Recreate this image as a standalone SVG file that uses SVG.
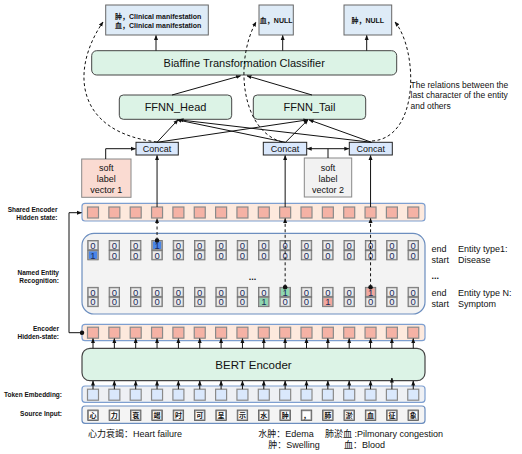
<svg xmlns="http://www.w3.org/2000/svg" xmlns:xlink="http://www.w3.org/1999/xlink" width="522" height="454" viewBox="0 0 522 454">
<style>
.t{font-family:"Liberation Sans","Noto Sans CJK SC",Arial,sans-serif;fill:#111}
.b{font-weight:bold}
.lbl{font-family:"Liberation Sans",Arial,sans-serif;font-weight:bold;font-size:6.5px;text-anchor:end;fill:#111}
.pk{fill:#f5b2a5;stroke:#8a8a8a;stroke-width:1.2}
.bl{fill:#dae8fc;stroke:#8a8a8a;stroke-width:1.2}
.ln{stroke:#111;stroke-width:1;fill:none}
.dl{stroke:#111;stroke-width:1;fill:none;stroke-dasharray:3 2.5}
.dg{font-family:"Liberation Sans",Arial,sans-serif;font-size:9.5px;fill:#1a2b5c;text-anchor:middle}
</style>
<defs>
<marker id="ah" viewBox="0 0 10 10" refX="9" refY="5" markerWidth="5" markerHeight="5" orient="auto"><path d="M0,1 L10,5 L0,9 z" fill="#111"/></marker>
<marker id="dot" viewBox="0 0 10 10" refX="5" refY="5" markerWidth="5" markerHeight="5"><circle cx="5" cy="5" r="4.5" fill="#111"/></marker>
<rect id="pkb" class="pk" x="-5.5" y="0" width="11" height="11"/>
<rect id="blb" class="bl" x="-5.5" y="0" width="11" height="11"/>
<g id="c"><rect x="-5.25" y="0" width="10.5" height="9.6" fill="#a6a6a6" stroke="#6d6d6d" stroke-width=".8"/><rect x="-4.1" y="1.1" width="8.2" height="7.4" fill="#ececec"/></g>
<g id="cB"><rect x="-5.25" y="0" width="10.5" height="9.6" fill="#a6a6a6" stroke="#6d6d6d" stroke-width=".8"/><rect x="-4.1" y="1.1" width="8.2" height="7.4" fill="#4a86e8"/></g>
<g id="cG"><rect x="-5.25" y="0" width="10.5" height="9.6" fill="#a6a6a6" stroke="#6d6d6d" stroke-width=".8"/><rect x="-4.1" y="1.1" width="8.2" height="7.4" fill="#8fd8b0"/></g>
<g id="cP"><rect x="-5.25" y="0" width="10.5" height="9.6" fill="#a6a6a6" stroke="#6d6d6d" stroke-width=".8"/><rect x="-4.1" y="1.1" width="8.2" height="7.4" fill="#f4a79d"/></g>
<g id="ch"><rect x="-5.25" y="0" width="10.5" height="10.5" fill="#9a9a9a" stroke="#555" stroke-width=".8"/><rect x="-4" y="1.25" width="8" height="8" fill="#fff"/></g>
</defs>
<rect width="522" height="454" fill="#fff"/>

<!-- top output boxes -->
<g id="out1"><rect x="105.7" y="5" width="102.6" height="30" fill="#deebf7" stroke="#666"/>
<text class="t b" x="115" y="18.5" font-size="7">肿，Clinical manifestation</text>
<text class="t b" x="115" y="27.5" font-size="7">血，Clinical manifestation</text></g>
<g id="out2"><rect x="259" y="5" width="34.3" height="30" fill="#deebf7" stroke="#666"/>
<text class="t b" x="276.2" y="22.5" font-size="7" text-anchor="middle">血，NULL</text></g>
<g id="out3"><rect x="344" y="5" width="47.7" height="30" fill="#deebf7" stroke="#666"/>
<text class="t b" x="367.8" y="22.5" font-size="7" text-anchor="middle">肿，NULL</text></g>

<g id="biaffine"><rect x="91.7" y="50.7" width="305" height="24.3" rx="5" fill="#dcf3e6" stroke="#444"/>
<text class="t" x="244.2" y="66.8" font-size="11" text-anchor="middle">Biaffine Transformation Classifier</text></g>

<g id="ffnn_head"><rect x="119.3" y="95" width="112.4" height="24.3" rx="4" fill="#dcf3e6" stroke="#444"/>
<text class="t" x="175.5" y="111" font-size="11" text-anchor="middle">FFNN_Head</text></g>
<g id="ffnn_tail"><rect x="253.3" y="95" width="112.4" height="24.3" rx="4" fill="#dcf3e6" stroke="#444"/>
<text class="t" x="309.5" y="111" font-size="11" text-anchor="middle">FFNN_Tail</text></g>

<g id="note"><text class="t" font-size="8.5" x="410.5" y="87.5">The relations between the</text>
<text class="t" font-size="8.5" x="410.5" y="98.3">last character of the entity</text>
<text class="t" font-size="8.5" x="410.5" y="109">and others</text></g>

<g id="concat1"><rect x="136" y="142.3" width="42.3" height="12.7" fill="#dae8fc" stroke="#222"/>
<text class="t" x="157.1" y="151.9" font-size="9" text-anchor="middle">Concat</text></g>
<g id="concat2"><rect x="263.3" y="142.3" width="43.4" height="12.7" fill="#dae8fc" stroke="#222"/>
<text class="t" x="285" y="151.9" font-size="9" text-anchor="middle">Concat</text></g>
<g id="concat3"><rect x="349.3" y="142.3" width="43" height="12.7" fill="#dae8fc" stroke="#222"/>
<text class="t" x="370.8" y="151.9" font-size="9" text-anchor="middle">Concat</text></g>

<g id="soft1"><rect x="81.7" y="159" width="49.3" height="38.3" fill="#fadbd2" stroke="#888"/>
<text class="t" font-size="9" text-anchor="middle" x="106.3" y="171">soft</text>
<text class="t" font-size="9" text-anchor="middle" x="106.3" y="182.3">label</text>
<text class="t" font-size="9" text-anchor="middle" x="106.3" y="193.3">vector 1</text></g>
<g id="soft2"><rect x="304.3" y="158" width="47.4" height="39" fill="#f2f2f2" stroke="#888"/>
<text class="t" font-size="9" text-anchor="middle" x="328" y="170.5">soft</text>
<text class="t" font-size="9" text-anchor="middle" x="328" y="181.8">label</text>
<text class="t" font-size="9" text-anchor="middle" x="328" y="192.8">vector 2</text></g>

<!-- left labels -->
<g id="labels">
<text class="lbl" x="57.5" y="212.3">Shared Encoder</text>
<text class="lbl" x="57.5" y="220">Hidden state:</text>
<text class="lbl" x="59" y="275.3">Named Entity</text>
<text class="lbl" x="59" y="282.5">Recognition:</text>
<text class="lbl" x="59" y="331.3">Encoder</text>
<text class="lbl" x="59" y="339">Hidden-state:</text>
<text class="lbl" x="62" y="397.3">Token Embedding:</text>
<text class="lbl" x="62" y="416.3">Source Input:</text>
</g>

<g id="shared_encoder"><rect x="82" y="203.3" width="343" height="17.7" rx="3" fill="#fde9dd" stroke="#7e9fd0" stroke-width="1.2"/>
<use href="#pkb" x="93" y="207"/><use href="#pkb" x="114.35" y="207"/><use href="#pkb" x="135.7" y="207"/><use href="#pkb" x="157.05" y="207"/><use href="#pkb" x="178.4" y="207"/><use href="#pkb" x="199.75" y="207"/><use href="#pkb" x="221.1" y="207"/><use href="#pkb" x="242.45" y="207"/><use href="#pkb" x="263.8" y="207"/><use href="#pkb" x="285.15" y="207"/><use href="#pkb" x="306.5" y="207"/><use href="#pkb" x="327.85" y="207"/><use href="#pkb" x="349.2" y="207"/><use href="#pkb" x="370.55" y="207"/><use href="#pkb" x="391.9" y="207"/><use href="#pkb" x="413.25" y="207"/>
</g>

<g id="ner"><rect x="82" y="233.3" width="343" height="80.7" rx="12" fill="#f3f3f3" stroke="#6c8ebf" stroke-width="1.2"/>
<use href="#c" x="114.35" y="240.5"/><use href="#c" x="135.7" y="240.5"/><use href="#c" x="93" y="240.5"/><use href="#cB" x="157.05" y="240.5"/><use href="#c" x="178.4" y="240.5"/><use href="#c" x="199.75" y="240.5"/><use href="#c" x="221.1" y="240.5"/><use href="#c" x="242.45" y="240.5"/><use href="#c" x="263.8" y="240.5"/><use href="#c" x="285.15" y="240.5"/><use href="#c" x="306.5" y="240.5"/><use href="#c" x="327.85" y="240.5"/><use href="#c" x="349.2" y="240.5"/><use href="#c" x="370.55" y="240.5"/><use href="#c" x="391.9" y="240.5"/><use href="#c" x="413.25" y="240.5"/>
<use href="#cB" x="93" y="250.3"/><use href="#c" x="114.35" y="250.3"/><use href="#c" x="135.7" y="250.3"/><use href="#c" x="157.05" y="250.3"/><use href="#c" x="178.4" y="250.3"/><use href="#c" x="199.75" y="250.3"/><use href="#c" x="221.1" y="250.3"/><use href="#c" x="242.45" y="250.3"/><use href="#c" x="263.8" y="250.3"/><use href="#c" x="285.15" y="250.3"/><use href="#c" x="306.5" y="250.3"/><use href="#c" x="327.85" y="250.3"/><use href="#c" x="349.2" y="250.3"/><use href="#c" x="370.55" y="250.3"/><use href="#c" x="391.9" y="250.3"/><use href="#c" x="413.25" y="250.3"/>
<use href="#c" x="93" y="287.3"/><use href="#c" x="114.35" y="287.3"/><use href="#c" x="135.7" y="287.3"/><use href="#c" x="157.05" y="287.3"/><use href="#c" x="178.4" y="287.3"/><use href="#c" x="199.75" y="287.3"/><use href="#c" x="221.1" y="287.3"/><use href="#c" x="242.45" y="287.3"/><use href="#c" x="263.8" y="287.3"/><use href="#cG" x="285.15" y="287.3"/><use href="#c" x="306.5" y="287.3"/><use href="#c" x="327.85" y="287.3"/><use href="#c" x="349.2" y="287.3"/><use href="#cP" x="370.55" y="287.3"/><use href="#c" x="391.9" y="287.3"/><use href="#c" x="413.25" y="287.3"/>
<use href="#c" x="93" y="297.1"/><use href="#c" x="114.35" y="297.1"/><use href="#c" x="135.7" y="297.1"/><use href="#c" x="157.05" y="297.1"/><use href="#c" x="178.4" y="297.1"/><use href="#c" x="199.75" y="297.1"/><use href="#c" x="221.1" y="297.1"/><use href="#c" x="242.45" y="297.1"/><use href="#cG" x="263.8" y="297.1"/><use href="#c" x="285.15" y="297.1"/><use href="#c" x="306.5" y="297.1"/><use href="#cP" x="327.85" y="297.1"/><use href="#c" x="349.2" y="297.1"/><use href="#c" x="370.55" y="297.1"/><use href="#c" x="391.9" y="297.1"/><use href="#c" x="413.25" y="297.1"/>
<text class="dg" x="93 114.35 135.7 157.05 178.4 199.75 221.1 242.45 263.8 285.15 306.5 327.85 349.2 370.55 391.9 413.25" y="248.8">0001000000000000</text>
<text class="dg" x="93 114.35 135.7 157.05 178.4 199.75 221.1 242.45 263.8 285.15 306.5 327.85 349.2 370.55 391.9 413.25" y="258.6">1000000000000000</text>
<text class="dg" x="93 114.35 135.7 157.05 178.4 199.75 221.1 242.45 263.8 285.15 306.5 327.85 349.2 370.55 391.9 413.25" y="295.6">0000000001000100</text>
<text class="dg" x="93 114.35 135.7 157.05 178.4 199.75 221.1 242.45 263.8 285.15 306.5 327.85 349.2 370.55 391.9 413.25" y="305.4">0000000010010000</text>
<text class="t b" x="252.5" y="280" font-size="9" fill="#1a2b5c" text-anchor="middle">...</text>
</g>

<g id="ner_labels">
<text class="t" font-size="9" x="431.5" y="251.5">end</text>
<text class="t" font-size="9" x="431.5" y="263">start</text>
<text class="t" font-size="9" x="458" y="251.5">Entity type1:</text>
<text class="t" font-size="9" x="458" y="263">Disease</text>
<text class="t b" font-size="9" x="431.5" y="279">...</text>
<text class="t" font-size="9" x="431.5" y="295.5">end</text>
<text class="t" font-size="9" x="431.5" y="306.8">start</text>
<text class="t" font-size="9" x="458" y="295.5">Entity type N:</text>
<text class="t" font-size="9" x="458" y="306.8">Symptom</text>
</g>

<g id="encoder_hidden"><rect x="82" y="324.3" width="343" height="16.4" rx="3" fill="#fde9dd" stroke="#7e9fd0" stroke-width="1.2"/>
<use href="#pkb" x="93" y="327.2"/><use href="#pkb" x="114.35" y="327.2"/><use href="#pkb" x="135.7" y="327.2"/><use href="#pkb" x="157.05" y="327.2"/><use href="#pkb" x="178.4" y="327.2"/><use href="#pkb" x="199.75" y="327.2"/><use href="#pkb" x="221.1" y="327.2"/><use href="#pkb" x="242.45" y="327.2"/><use href="#pkb" x="263.8" y="327.2"/><use href="#pkb" x="285.15" y="327.2"/><use href="#pkb" x="306.5" y="327.2"/><use href="#pkb" x="327.85" y="327.2"/><use href="#pkb" x="349.2" y="327.2"/><use href="#pkb" x="370.55" y="327.2"/><use href="#pkb" x="391.9" y="327.2"/><use href="#pkb" x="413.25" y="327.2"/>
</g>

<g id="bert"><rect x="82" y="348.3" width="343" height="32.4" rx="8" fill="#dcf3e6" stroke="#444" stroke-width="1.2"/>
<text class="t" x="253.5" y="369" font-size="11.5" text-anchor="middle">BERT Encoder</text></g>

<g id="token_embedding"><rect x="82" y="386" width="343" height="16.3" rx="3" fill="#eef0f4" stroke="#7e9fd0" stroke-width="1.2"/>
<use href="#blb" x="93" y="389.2"/><use href="#blb" x="114.35" y="389.2"/><use href="#blb" x="135.7" y="389.2"/><use href="#blb" x="157.05" y="389.2"/><use href="#blb" x="178.4" y="389.2"/><use href="#blb" x="199.75" y="389.2"/><use href="#blb" x="221.1" y="389.2"/><use href="#blb" x="242.45" y="389.2"/><use href="#blb" x="263.8" y="389.2"/><use href="#blb" x="285.15" y="389.2"/><use href="#blb" x="306.5" y="389.2"/><use href="#blb" x="327.85" y="389.2"/><use href="#blb" x="349.2" y="389.2"/><use href="#blb" x="370.55" y="389.2"/><use href="#blb" x="391.9" y="389.2"/><use href="#blb" x="413.25" y="389.2"/>
</g>

<g id="source_input"><rect x="82" y="406" width="343" height="17.3" rx="3" fill="#f4f4f4" stroke="#6c8ebf" stroke-width="1.2"/>
<use href="#ch" x="93" y="410"/><use href="#ch" x="114.35" y="410"/><use href="#ch" x="135.7" y="410"/><use href="#ch" x="157.05" y="410"/><use href="#ch" x="178.4" y="410"/><use href="#ch" x="199.75" y="410"/><use href="#ch" x="221.1" y="410"/><use href="#ch" x="242.45" y="410"/><use href="#ch" x="263.8" y="410"/><use href="#ch" x="285.15" y="410"/><use href="#ch" x="306.5" y="410"/><use href="#ch" x="327.85" y="410"/><use href="#ch" x="349.2" y="410"/><use href="#ch" x="370.55" y="410"/><use href="#ch" x="391.9" y="410"/><use href="#ch" x="413.25" y="410"/>
<text class="t b" font-size="7" text-anchor="middle" x="93 114.35 135.7 157.05 178.4 199.75 221.1 242.45 263.8 285.15 306.5 327.85 349.2 370.55 391.9 413.25" y="418">心力衰竭时可呈示水肿，肺淤血征象</text>
</g>

<g id="legend">
<text class="t" font-size="9" x="88" y="436.5">心力衰竭：Heart failure</text>
<text class="t" font-size="9" x="258.3" y="436.5">水肿：Edema</text>
<text class="t" font-size="9" x="325" y="436.5">肺淤血 :Pilmonary congestion</text>
<text class="t" font-size="9" x="268.3" y="447.5">肿：Swelling</text>
<text class="t" font-size="9" x="344" y="447.5">血：Blood</text>
</g>

<g id="connectors">
<line class="ln" x1="156" y1="50.7" x2="156" y2="35.5" marker-end="url(#ah)"/>
<line class="ln" x1="282.7" y1="50.7" x2="282.7" y2="35.5" marker-end="url(#ah)"/>
<line class="ln" x1="366.7" y1="50.7" x2="366.7" y2="35.5" marker-end="url(#ah)"/>
<line class="ln" x1="172" y1="95" x2="240.5" y2="75.8" marker-end="url(#ah)"/>
<line class="ln" x1="312" y1="95" x2="247" y2="75.8" marker-end="url(#ah)"/>
<line class="ln" x1="157" y1="142.3" x2="178" y2="119.8" marker-end="url(#ah)"/>
<line class="ln" x1="157" y1="142.3" x2="308" y2="119.8" marker-end="url(#ah)"/>
<line class="ln" x1="285.5" y1="142.3" x2="177" y2="119.8" marker-end="url(#ah)"/>
<line class="ln" x1="285.5" y1="142.3" x2="308" y2="119.8" marker-end="url(#ah)"/>
<line class="ln" x1="371.5" y1="142.3" x2="179" y2="119.8" marker-end="url(#ah)"/>
<line class="ln" x1="371.5" y1="142.3" x2="309" y2="119.8" marker-end="url(#ah)"/>
<path class="ln" d="M105.7,159 V148.7 H135.5" marker-end="url(#ah)"/>
<path class="ln" d="M328,158 V148.7 H307.2" marker-end="url(#ah)"/>
<path class="ln" d="M328,148.7 H348.8" marker-end="url(#ah)"/>
<line class="ln" x1="157.05" y1="207" x2="157.05" y2="155.5" marker-end="url(#ah)"/>
<line class="ln" x1="285.15" y1="207" x2="285.15" y2="155.5" marker-end="url(#ah)"/>
<line class="ln" x1="370.55" y1="207" x2="370.55" y2="155.5" marker-end="url(#ah)"/>
<path class="dl" d="M157,142 C75,132 70,70 103,22" marker-end="url(#ah)"/>
<path class="dl" d="M282,142 C240,130 235,60 256,22" marker-end="url(#ah)"/>
<path class="dl" d="M372,141 C420,138 418,50 395,22" marker-end="url(#ah)"/>
<path class="dl" d="M157.05,240.5 V218.5" marker-start="url(#dot)" marker-end="url(#ah)"/>
<path class="dl" d="M285.15,287.3 V218.5" marker-start="url(#dot)" marker-end="url(#ah)"/>
<path class="dl" d="M370.55,287.3 V218.5" marker-start="url(#dot)" marker-end="url(#ah)"/>
<path class="ln" d="M82,332.7 H69 V212.7 H81.5" marker-start="url(#dot)" marker-end="url(#ah)"/>
<g class="ln" marker-end="url(#ah)">
<line x1="93" y1="348.3" x2="93" y2="338.6"/><line x1="114.35" y1="348.3" x2="114.35" y2="338.6"/><line x1="135.7" y1="348.3" x2="135.7" y2="338.6"/><line x1="157.05" y1="348.3" x2="157.05" y2="338.6"/><line x1="178.4" y1="348.3" x2="178.4" y2="338.6"/><line x1="199.75" y1="348.3" x2="199.75" y2="338.6"/><line x1="221.1" y1="348.3" x2="221.1" y2="338.6"/><line x1="242.45" y1="348.3" x2="242.45" y2="338.6"/><line x1="263.8" y1="348.3" x2="263.8" y2="338.6"/><line x1="285.15" y1="348.3" x2="285.15" y2="338.6"/><line x1="306.5" y1="348.3" x2="306.5" y2="338.6"/><line x1="327.85" y1="348.3" x2="327.85" y2="338.6"/><line x1="349.2" y1="348.3" x2="349.2" y2="338.6"/><line x1="370.55" y1="348.3" x2="370.55" y2="338.6"/><line x1="391.9" y1="348.3" x2="391.9" y2="338.6"/><line x1="413.25" y1="348.3" x2="413.25" y2="338.6"/>
</g>
<g class="ln" marker-end="url(#ah)">
<line x1="93" y1="389.2" x2="93" y2="381"/><line x1="114.35" y1="389.2" x2="114.35" y2="381"/><line x1="135.7" y1="389.2" x2="135.7" y2="381"/><line x1="157.05" y1="389.2" x2="157.05" y2="381"/><line x1="178.4" y1="389.2" x2="178.4" y2="381"/><line x1="199.75" y1="389.2" x2="199.75" y2="381"/><line x1="221.1" y1="389.2" x2="221.1" y2="381"/><line x1="242.45" y1="389.2" x2="242.45" y2="381"/><line x1="263.8" y1="389.2" x2="263.8" y2="381"/><line x1="285.15" y1="389.2" x2="285.15" y2="381"/><line x1="306.5" y1="389.2" x2="306.5" y2="381"/><line x1="327.85" y1="389.2" x2="327.85" y2="381"/><line x1="349.2" y1="389.2" x2="349.2" y2="381"/><line x1="370.55" y1="389.2" x2="370.55" y2="381"/><line x1="391.9" y1="389.2" x2="391.9" y2="378"/><line x1="413.25" y1="389.2" x2="413.25" y2="381"/>
</g>
</g>
</svg>
